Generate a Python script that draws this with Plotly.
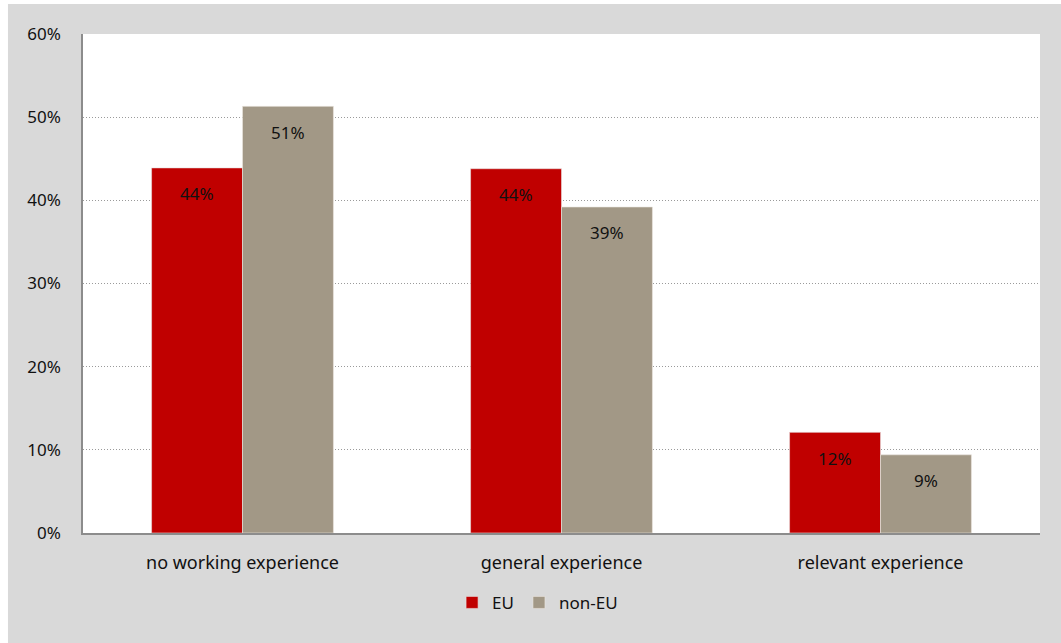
import plotly.graph_objects as go

categories = ["no working experience", "general experience", "relevant experience"]
eu_values = [0.439, 0.438, 0.121]
non_eu_values = [0.513, 0.392, 0.094]
y_ticks = [0, 0.1, 0.2, 0.3, 0.4, 0.5, 0.6]
y_tick_labels = ["0%", "10%", "20%", "30%", "40%", "50%", "60%"]

EU_RED = "#c00000"
NON_EU_GREY = "#a29886"
FONT = "Noto Sans"

fig = go.Figure()
fig.add_trace(go.Bar(name="EU", x=categories, y=eu_values,
                     marker=dict(color=EU_RED, line=dict(color="#e8e0e0", width=0.6))))
fig.add_trace(go.Bar(name="non-EU", x=categories, y=non_eu_values,
                     marker=dict(color=NON_EU_GREY, line=dict(color="#ece8e0", width=0.6))))

# value labels just under the top of each bar
annotations = []
for offset, values in ((-0.143, eu_values), (0.143, non_eu_values)):
    for i, v in enumerate(values):
        annotations.append(dict(
            x=i + offset, y=v, xref="x", yref="y",
            text=f"{round(v * 100):.0f}%", showarrow=False,
            yshift=-26, font=dict(family=FONT, size=17, color="#111111")))

fig.update_layout(
    width=1061, height=643,
    margin=dict(l=83, r=21, t=34, b=110),
    paper_bgcolor="#d9d9d9",
    plot_bgcolor="#ffffff",
    barmode="group",
    bargap=0.43,
    bargroupgap=0,
    font=dict(family=FONT, size=17, color="#111111"),
    showlegend=True,
    legend=dict(orientation="h", x=0.475, xanchor="center", y=-0.14, yanchor="middle",
                font=dict(family=FONT, size=17), bgcolor="rgba(0,0,0,0)",
                itemwidth=30, traceorder="normal"),
    annotations=annotations,
    shapes=[
        # white strips along the left and top edges of the page
        dict(type="rect", xref="paper", yref="paper", x0=-0.1, x1=-0.0784, y0=-0.3,
             y1=1.1, fillcolor="#ffffff", line=dict(width=0), layer="below"),
        dict(type="rect", xref="paper", yref="paper", x0=-0.1, x1=1.1, y0=1.0601,
             y1=1.1, fillcolor="#ffffff", line=dict(width=0), layer="below"),
    ],
)

fig.update_yaxes(
    range=[0, 0.6], tickvals=y_ticks, ticktext=y_tick_labels,
    showgrid=True, gridcolor="#9a9a9a", griddash="1px,2px", gridwidth=1,
    showline=True, linecolor="#8c8c8c", linewidth=1.5,
    zeroline=False, ticks="", ticklabelstandoff=17,
    tickfont=dict(family=FONT, size=17, color="#111111"),
)
fig.update_xaxes(
    showgrid=False, showline=True, linecolor="#8c8c8c", linewidth=2,
    ticks="", ticklabelstandoff=12,
    tickfont=dict(family=FONT, size=18, color="#111111"),
)

fig.write_html("out.html")
